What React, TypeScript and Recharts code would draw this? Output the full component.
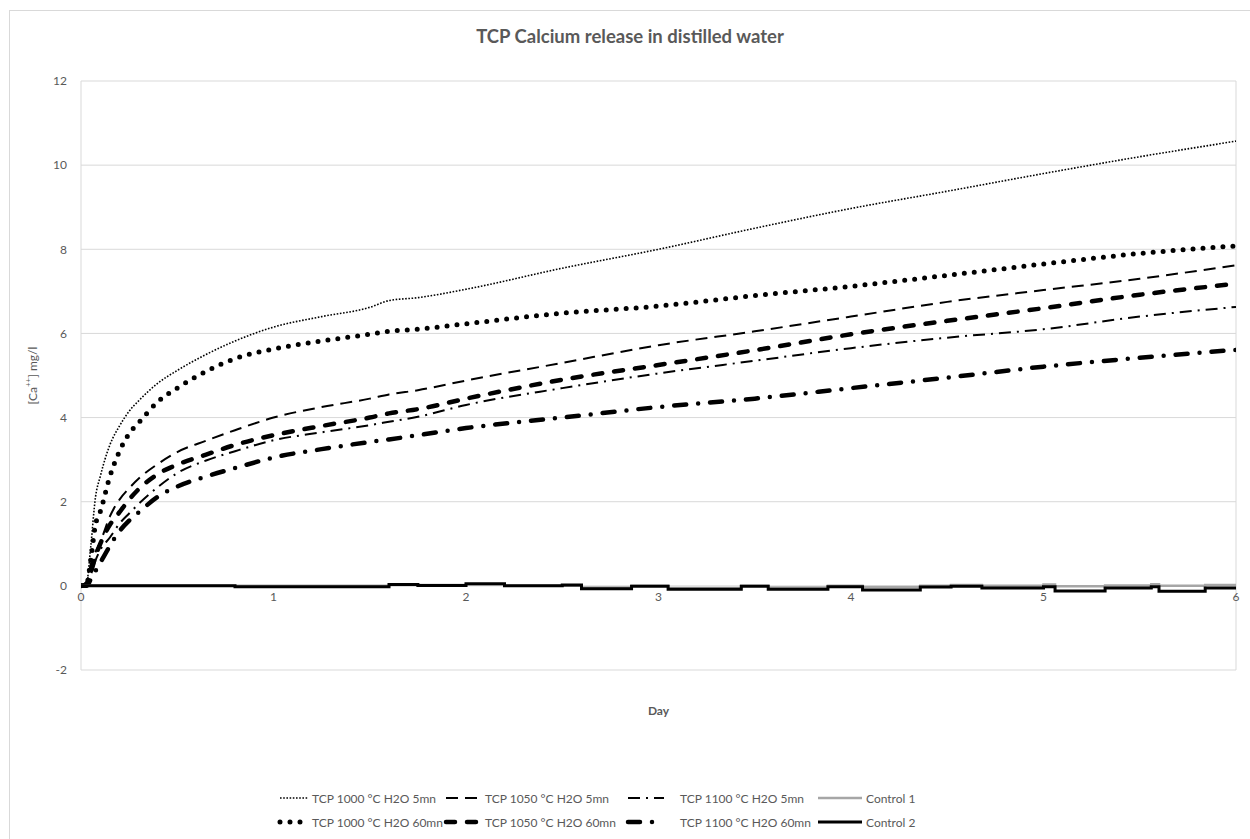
import React from 'react';
import {
  LineChart, Line, XAxis, YAxis, CartesianGrid, ReferenceDot,
} from 'recharts';

// sampling days shared by the six TCP series
const days = [0, 0.03, 0.05, 0.075, 0.1, 0.15, 0.2, 0.25, 0.3, 0.4, 0.5, 0.65, 0.8, 1, 1.25, 1.5, 1.6, 1.75, 2, 2.5, 3, 3.5, 4, 4.5, 5, 5.5, 6];

const tcp1000_5 = [0, 0.1, 0.9, 2.1, 2.6, 3.35, 3.8, 4.15, 4.4, 4.82, 5.12, 5.5, 5.82, 6.15, 6.4, 6.62, 6.78, 6.85, 7.05, 7.55, 8.0, 8.5, 8.97, 9.38, 9.8, 10.2, 10.57];
const tcp1000_60 = [0, 0.05, 0.6, 1.45, 1.76, 2.6, 3.2, 3.62, 3.88, 4.38, 4.7, 5.1, 5.4, 5.63, 5.82, 5.98, 6.05, 6.1, 6.23, 6.48, 6.65, 6.9, 7.12, 7.38, 7.65, 7.9, 8.08];
const tcp1050_5 = [0, 0.1, 0.5, 0.8, 1.04, 1.65, 2.05, 2.32, 2.55, 2.9, 3.18, 3.45, 3.7, 4.0, 4.25, 4.45, 4.55, 4.65, 4.88, 5.3, 5.72, 6.05, 6.4, 6.75, 7.03, 7.3, 7.62];
const tcp1050_60 = [0, 0.05, 0.3, 0.7, 1.0, 1.45, 1.75, 2.05, 2.3, 2.66, 2.88, 3.12, 3.35, 3.58, 3.8, 4.0, 4.1, 4.2, 4.45, 4.9, 5.25, 5.6, 5.98, 6.3, 6.6, 6.92, 7.18];
const tcp1100_5 = [0, 0.05, 0.25, 0.6, 0.85, 1.15, 1.48, 1.72, 1.95, 2.35, 2.68, 2.98, 3.2, 3.46, 3.65, 3.82, 3.9, 4.02, 4.3, 4.7, 5.05, 5.35, 5.65, 5.9, 6.1, 6.4, 6.63];
const tcp1100_60 = [0, 0, 0.15, 0.35, 0.55, 0.95, 1.3, 1.55, 1.75, 2.12, 2.36, 2.6, 2.8, 3.05, 3.25, 3.42, 3.48, 3.58, 3.75, 4.0, 4.25, 4.45, 4.7, 4.95, 5.21, 5.42, 5.61];

// controls are step-like, own sampling
const control1Days = [0, 1.6, 2.0, 2.2, 2.6, 2.86, 3.05, 3.43, 3.57, 3.88, 4.06, 4.36, 4.52, 4.68, 5.0, 5.06, 5.32, 5.56, 5.6, 5.84, 6];
const control1Vals = [0, 0.02, 0.04, 0, -0.04, 0, -0.05, 0, -0.04, 0, -0.03, 0, 0.02, 0, 0.03, -0.01, 0.01, 0.04, 0, 0.02, 0.02];
const control2Days = [0, 0.8, 1.6, 1.75, 2.0, 2.2, 2.5, 2.6, 2.86, 3.05, 3.43, 3.57, 3.88, 4.06, 4.36, 4.52, 4.68, 5.0, 5.06, 5.32, 5.56, 5.6, 5.84, 6];
const control2Vals = [0, -0.02, 0.03, 0.01, 0.05, 0, 0.02, -0.07, -0.01, -0.08, -0.01, -0.08, -0.02, -0.1, -0.03, -0.01, -0.05, -0.02, -0.12, -0.05, -0.02, -0.13, -0.05, -0.05];

const yTicks = [-2, 0, 2, 4, 6, 8, 10, 12];
const xTicks = [0, 1, 2, 3, 4, 5, 6];

const series = [
  { key: 'a', name: 'TCP 1000 °C H2O 5mn', values: tcp1000_5, color: '#000', width: 1.6, dash: '1.6 1.6', cap: 'butt' },
  { key: 'b', name: 'TCP 1000 °C H2O 60mn', values: tcp1000_60, color: '#000', width: 5, dash: '0 10', cap: 'round' },
  { key: 'c', name: 'TCP 1050 °C H2O 5mn', values: tcp1050_5, color: '#000', width: 2, dash: '12 7', cap: 'butt' },
  { key: 'd', name: 'TCP 1050 °C H2O 60mn', values: tcp1050_60, color: '#000', width: 4.5, dash: '9 12', cap: 'round' },
  { key: 'e', name: 'TCP 1100 °C H2O 5mn', values: tcp1100_5, color: '#000', width: 2, dash: '12 6 2 6', cap: 'butt' },
  { key: 'f', name: 'TCP 1100 °C H2O 60mn', values: tcp1100_60, color: '#000', width: 4.5, dash: '12 12 0 12', cap: 'round' },
];

const controls = [
  { key: 'c1', name: 'Control 1', days: control1Days, values: control1Vals, color: '#a6a6a6', width: 2.5 },
  { key: 'c2', name: 'Control 2', days: control2Days, values: control2Vals, color: '#000', width: 3 },
];

const rows = days.map((d, i) => {
  const r: any = { day: d };
  series.forEach(s => { r[s.key] = s.values[i]; });
  return r;
});

const controlData = controls.map(c => c.days.map((d, i) => ({ day: d, v: c.values[i] })));

const FONT = 'Lato, "Open Sans", sans-serif';
const GREY = '#595959';

// legend layout: [seriesKey, lineStart, lineEnd, textX, row]
const legendItems = [
  ['a', 280, 308, 312, 0], ['c', 446, 482, 485, 0], ['e', 628, 664, 680, 0], ['c1', 818, 862, 866, 0],
  ['b', 280, 308, 312, 1], ['d', 446, 482, 485, 1], ['f', 628, 664, 680, 1], ['c2', 818, 862, 866, 1],
];

function LegendSvg() {
  return (
    <svg width={1250} height={60} style={{ position: 'absolute', left: 0, top: 780 }}>
      {legendItems.map(([k, x1, x2, tx, row]: any) => {
        const s: any = series.find(q => q.key === k) || controls.find(q => q.key === k);
        const y = 18 + row * 24;
        return (
          <g key={k}>
            <line x1={x1} x2={x2} y1={y} y2={y} stroke={s.color} strokeWidth={s.width}
              strokeDasharray={s.dash} strokeLinecap={s.cap || 'butt'} />
            <text x={tx} y={y} dominantBaseline="central" fontSize={12} fill={GREY} fontFamily={FONT}>{s.name}</text>
          </g>
        );
      })}
    </svg>
  );
}

const YLabel = (props: any) => {
  const { x, y, height } = props.viewBox;
  const cx = x + 11;
  const cy = y + height / 2;
  return (
    <text x={cx} y={cy} transform={`rotate(-90, ${cx}, ${cy})`} textAnchor="middle" dominantBaseline="central"
      fontSize={12} fill={GREY} fontFamily={FONT}>
      [Ca<tspan dy={-4} fontSize={8}>++</tspan><tspan dy={4}>] mg/l</tspan>
    </text>
  );
};

export default function App() {
  return (
    <div style={{ position: 'absolute', left: 0, top: 0, width: 1250, height: 839, overflow: 'hidden', background: '#fff' }}>
      <div style={{ position: 'absolute', left: 9, top: 10, width: 1250, height: 840, border: '1px solid #d9d9d9' }} />
      <div style={{ position: 'absolute', left: 0, top: 25, width: 1260, textAlign: 'center', fontFamily: FONT, fontWeight: 700, fontSize: 18.5, color: GREY }}>
        TCP Calcium release in distilled water
      </div>
      <LineChart width={1250} height={839} data={rows} margin={{ top: 81, right: 14, left: 21, bottom: 119 }}>
        <CartesianGrid stroke="#d9d9d9" strokeWidth={1} />
        <XAxis dataKey="day" type="number" domain={[0, 6]} ticks={xTicks} tick={false} axisLine={false} tickLine={false}
          height={50} allowDataOverflow
          label={{ value: 'Day', position: 'insideTop', offset: 36, fontSize: 12, fontWeight: 700, fill: GREY, fontFamily: FONT }} />
        <YAxis type="number" domain={[-2, 12]} ticks={yTicks} width={60} axisLine={false} tickLine={false}
          tickSize={0} tickMargin={14} tick={{ fontSize: 12, fill: GREY, fontFamily: FONT }}
          label={<YLabel />} />
        {series.map(s => (
          <Line key={s.key} dataKey={s.key} type="monotone" stroke={s.color} strokeWidth={s.width}
            strokeDasharray={s.dash} strokeLinecap={s.cap as any} dot={false} activeDot={false}
            isAnimationActive={false} />
        ))}
        {controls.map((c, i) => (
          <Line key={c.key} data={controlData[i]} dataKey="v" type="stepAfter" stroke={c.color} strokeWidth={c.width}
            dot={false} activeDot={false} isAnimationActive={false} />
        ))}
        {xTicks.map(t => (
          <ReferenceDot key={t} x={t} y={0} r={1} fill="none" stroke="none"
            label={{ value: String(t), position: 'bottom', offset: 6, fontSize: 12, fill: GREY, fontFamily: FONT }} />
        ))}
      </LineChart>
      <LegendSvg />
    </div>
  );
}
